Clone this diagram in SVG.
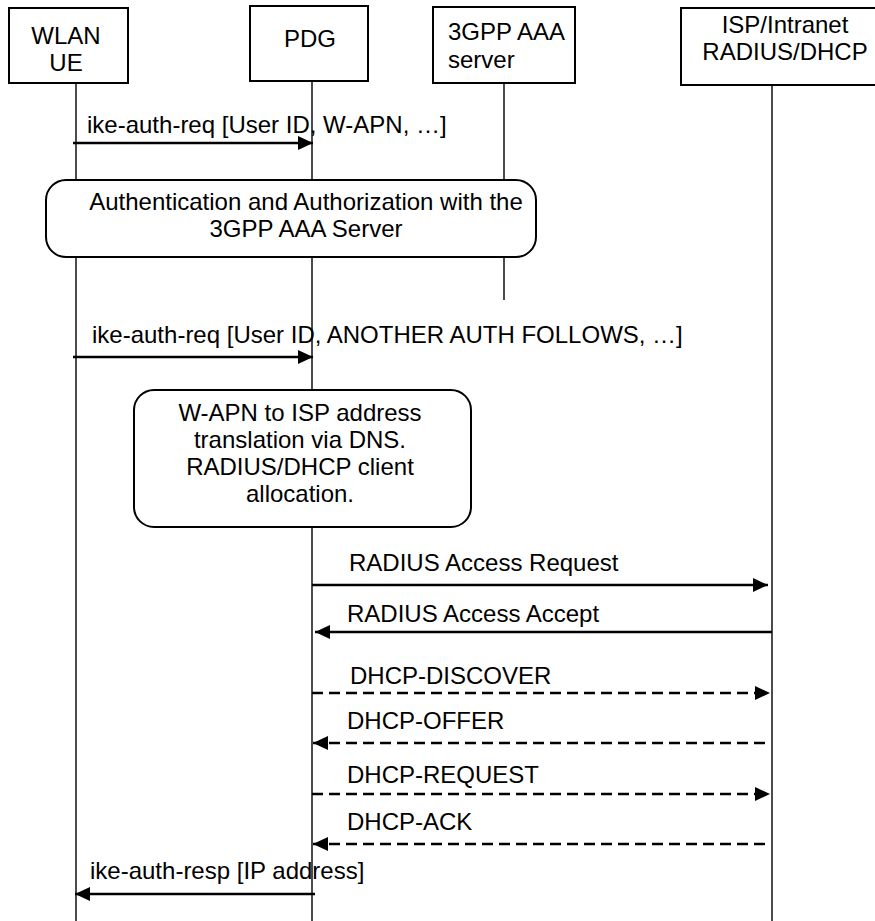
<svg xmlns="http://www.w3.org/2000/svg" width="875" height="921" viewBox="0 0 875 921">
<style>
text{font-family:"Liberation Sans",Arial,sans-serif;font-size:24px;fill:#000}
.box{fill:#fff;stroke:#000;stroke-width:2}
.life{stroke:#000;stroke-width:1.4;fill:none}
.msg{stroke:#000;stroke-width:2.4;fill:none}
.dash{stroke:#000;stroke-width:2.4;fill:none;stroke-dasharray:11 6}
.c{text-anchor:middle}
</style>
<defs>
<marker id="ah" viewBox="0 0 15 14" refX="15" refY="7" markerWidth="15" markerHeight="14" markerUnits="userSpaceOnUse" orient="auto">
<path d="M0,0 L15,7 L0,14 Z" fill="#000"/>
</marker>
</defs>
<rect width="875" height="921" fill="#fff"/>
<g id="lifelines">
<line class="life" x1="76" y1="83" x2="76" y2="921"/>
<line class="life" x1="312" y1="81" x2="312" y2="921"/>
<line class="life" x1="504" y1="83" x2="504" y2="300"/>
<line class="life" x1="772" y1="85" x2="772" y2="921"/>
</g>
<g id="node-wlan-ue">
<rect class="box" x="9" y="8" width="119" height="75"/>
<text class="c" x="66" y="44">WLAN</text>
<text class="c" x="66" y="71">UE</text>
</g>
<g id="node-pdg">
<rect class="box" x="250" y="6" width="118" height="75"/>
<text class="c" x="310" y="47">PDG</text>
</g>
<g id="node-aaa">
<rect class="box" x="433" y="7" width="142" height="76"/>
<text x="448" y="40">3GPP AAA</text>
<text x="448" y="68">server</text>
</g>
<g id="node-isp">
<rect class="box" x="681" y="8" width="198" height="77"/>
<text class="c" x="785" y="33">ISP/Intranet</text>
<text class="c" x="785" y="60">RADIUS/DHCP</text>
</g>
<g id="node-auth">
<rect class="box" x="46" y="180" width="490" height="77" rx="20" ry="20"/>
<text class="c" x="306" y="210">Authentication and Authorization with the</text>
<text class="c" x="306" y="237">3GPP AAA Server</text>
</g>
<g id="node-translation">
<rect class="box" x="134" y="390" width="337" height="137" rx="20" ry="20"/>
<text class="c" x="300" y="421">W-APN to ISP address</text>
<text class="c" x="300" y="448">translation via DNS.</text>
<text class="c" x="300" y="475">RADIUS/DHCP client</text>
<text class="c" x="300" y="502">allocation.</text>
</g>
<g id="connectors">
<line class="msg" x1="73" y1="143" x2="313" y2="143" marker-end="url(#ah)"/>
<line class="msg" x1="73" y1="357" x2="313" y2="357" marker-end="url(#ah)"/>
<line class="msg" x1="312" y1="585" x2="768" y2="585" marker-end="url(#ah)"/>
<line class="msg" x1="772" y1="632" x2="315" y2="632" marker-end="url(#ah)"/>
<line class="dash" x1="312" y1="693" x2="770" y2="693" marker-end="url(#ah)"/>
<line class="dash" x1="765" y1="743" x2="313" y2="743" marker-end="url(#ah)"/>
<line class="dash" x1="312" y1="794" x2="770" y2="794" marker-end="url(#ah)"/>
<line class="dash" x1="765" y1="844" x2="313" y2="844" marker-end="url(#ah)"/>
<line class="msg" x1="315" y1="894" x2="75" y2="894" marker-end="url(#ah)"/>
</g>
<g id="labels">
<text x="87" y="133">ike-auth-req [User ID, W-APN, …]</text>
<text x="92" y="343">ike-auth-req [User ID, ANOTHER AUTH FOLLOWS, …]</text>
<text x="349" y="571">RADIUS Access Request</text>
<text x="347" y="622">RADIUS Access Accept</text>
<text x="350" y="684">DHCP-DISCOVER</text>
<text x="347" y="729">DHCP-OFFER</text>
<text x="347" y="783">DHCP-REQUEST</text>
<text x="347" y="830">DHCP-ACK</text>
<text x="90" y="879">ike-auth-resp [IP address]</text>
</g>
</svg>
